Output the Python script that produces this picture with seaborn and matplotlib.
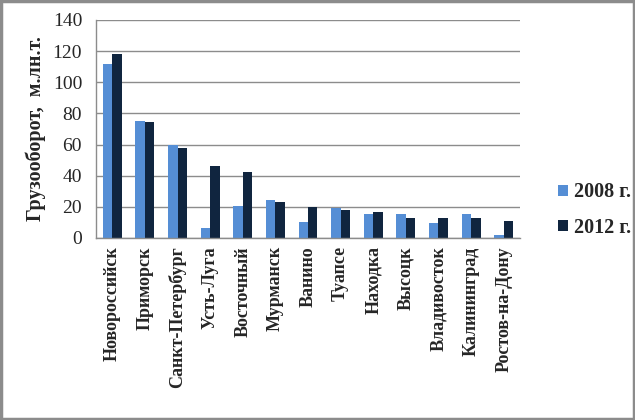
import matplotlib
matplotlib.use("Agg")
import matplotlib.pyplot as plt
import seaborn as sns
import pandas as pd
from matplotlib.patches import Rectangle

ports = ["Новороссийск", "Приморск", "Санкт-Петербург", "Усть-Луга", "Восточный",
         "Мурманск", "Ванино", "Туапсе", "Находка", "Высоцк", "Владивосток",
         "Калининград", "Ростов-на-Дону"]
v2008 = [112, 75, 59.5, 6.5, 20.5, 24.5, 10.5, 19.5, 15.5, 15.5, 9.5, 15.5, 2]
v2012 = [118, 74.5, 58, 46.5, 42.5, 23, 20, 18, 16.5, 13, 13, 13, 11]
series = ["2008 г.", "2012 г."]
yticks = [0, 20, 40, 60, 80, 100, 120, 140]

df = pd.DataFrame({
    "port": ports * 2,
    "value": v2008 + v2012,
    "year": [series[0]] * len(ports) + [series[1]] * len(ports),
})

sns.set_style("white")
plt.rcParams["font.family"] = ["Liberation Serif", "DejaVu Serif"]

fig = plt.figure(figsize=(6.35, 4.2), dpi=100)
ax = fig.add_axes([96 / 635, 1 - 238 / 420, (520 - 96) / 635, (238 - 20) / 420])

sns.barplot(data=df, x="port", y="value", hue="year", ax=ax,
            palette=["#558ED5", "#10253F"], width=0.58, saturation=1,
            edgecolor="none", linewidth=0)

ax.set_ylim(0, 140)
ax.set_yticks(yticks)
ax.set_yticklabels([str(t) for t in yticks], fontsize=14)
ax.yaxis.grid(True, color="#8C8C8C", linewidth=1)
ax.set_axisbelow(True)
ax.set_xlim(-0.5, len(ports) - 0.5)
ax.set_xticks(range(len(ports)))
ax.set_xticklabels(ports, rotation=90, fontsize=13, fontweight="bold")
ax.set_xlabel("")
ax.set_ylabel("Грузооборот,  м.лн.т.", fontsize=14.5, fontweight="bold", labelpad=5)

for s in ["top", "right"]:
    ax.spines[s].set_visible(False)
for s in ["left", "bottom"]:
    ax.spines[s].set_color("#8C8C8C")
    ax.spines[s].set_linewidth(1)
ax.tick_params(axis="y", length=5, color="#8C8C8C", direction="out", pad=5)
ax.tick_params(axis="x", length=0, pad=6)
ax.set_xticks([i + 0.5 for i in range(-1, len(ports))], minor=True)
ax.tick_params(axis="x", which="minor", length=5, color="#8C8C8C", direction="out")

leg = ax.legend(loc="center left", bbox_to_anchor=(540 / 635, 1 - 210 / 420),
                bbox_transform=fig.transFigure, frameon=False,
                prop={"family": "Liberation Serif", "weight": "bold", "size": 14.5},
                handlelength=0.5, handleheight=0.5, handletextpad=0.3,
                labelspacing=0.75)

fig.patches.append(Rectangle((0.002, 0.003), 0.996, 0.994, transform=fig.transFigure,
                             fill=False, edgecolor="#8C8C8C", linewidth=2.5))

fig.savefig("out.png", dpi=100, facecolor="white")
